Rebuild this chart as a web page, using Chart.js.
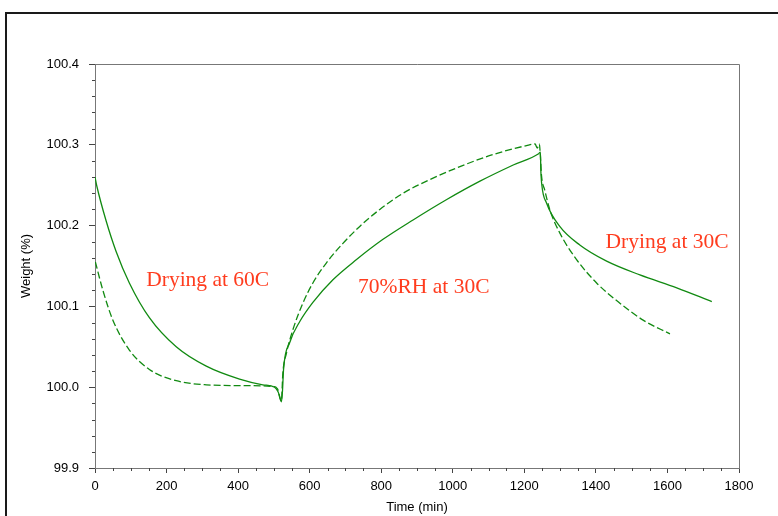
<!DOCTYPE html>
<html>
<head>
<meta charset="utf-8">
<script src="https://cdn.jsdelivr.net/npm/chart.js@4.4.1/dist/chart.umd.min.js"></script>
<style>
  body { margin: 0; background: #fff; overflow: hidden; }
  #wrap { position: relative; width: 778px; height: 516px; }
  #frame { position: absolute; left: 5px; top: 12px; width: 820px; height: 620px; border: 2px solid #1a1a1a; pointer-events: none; }
</style>
</head>
<body>
<div id="wrap">
  <canvas id="chart"></canvas>
  <div id="frame"></div>
</div>
<script>
// solid run
const solidTime = [0, 5, 31, 59, 96, 152, 227, 311, 404, 469, 502, 512, 521, 524, 527, 544, 572, 609, 665, 731, 805, 889, 982, 1076, 1169, 1240, 1245, 1246, 1249, 1262, 1299, 1355, 1430, 1523, 1626, 1724];
const solidWeight = [100.260, 100.249, 100.206, 100.168, 100.129, 100.086, 100.050, 100.026, 100.010, 100.003, 100.000, 99.994, 99.982, 99.995, 100.022, 100.055, 100.081, 100.105, 100.133, 100.158, 100.183, 100.207, 100.232, 100.255, 100.275, 100.289, 100.291, 100.270, 100.250, 100.228, 100.199, 100.176, 100.156, 100.139, 100.123, 100.106];

// dashed run
const dashTime = [1, 22, 50, 96, 152, 227, 311, 404, 497, 510, 521, 525, 535, 553, 581, 609, 647, 693, 740, 796, 861, 936, 1020, 1113, 1206, 1230, 1236, 1242, 1245, 1248, 1257, 1271, 1299, 1346, 1402, 1467, 1532, 1607];
const dashWeight = [100.155, 100.120, 100.083, 100.046, 100.022, 100.008, 100.003, 100.002, 100.001, 99.998, 99.983, 100.017, 100.042, 100.071, 100.104, 100.129, 100.154, 100.178, 100.199, 100.220, 100.240, 100.257, 100.273, 100.288, 100.299, 100.301, 100.296, 100.301, 100.285, 100.262, 100.244, 100.220, 100.191, 100.158, 100.129, 100.104, 100.083, 100.066];

const xTicks = [0, 1800, 200];
const yTicks = [99.9, 100.4, 0.1];

const noteText = ["Drying at 60C", "70%RH at 30C", "Drying at 30C"];
const noteTime = [315, 919, 1599];
const noteWeight = [100.132, 100.123, 100.179];

const green = "#118a11";
const tickFont = { family: "Liberation Sans, Arial, sans-serif", size: 13 };

const toPoints = (ts, ws) => ts.map((t, i) => ({ x: t, y: ws[i] }));

const extras = {
  id: "extras",
  afterDraw(chart) {
    const { ctx, chartArea: a, scales: { x, y } } = chart;
    ctx.save();
    ctx.strokeStyle = "#444";
    ctx.lineWidth = 1;
    ctx.beginPath();
    for (let v = xTicks[0]; v <= xTicks[1]; v += 50) {
      if (v % xTicks[2] === 0) continue;
      const px = Math.round(x.getPixelForValue(v)) + 0.5;
      ctx.moveTo(px, a.bottom);
      ctx.lineTo(px, a.bottom + 3);
    }
    for (let i = 0; i <= 25; i++) {
      if (i % 5 === 0) continue;
      const py = Math.round(y.getPixelForValue(yTicks[0] + i * 0.02)) + 0.5;
      ctx.moveTo(a.left - 3, py);
      ctx.lineTo(a.left, py);
    }
    ctx.stroke();

    // top and right edges of the plot box
    ctx.strokeStyle = "#777";
    ctx.beginPath();
    ctx.moveTo(a.left, Math.round(a.top) + 0.5);
    ctx.lineTo(Math.round(a.right) + 0.5, Math.round(a.top) + 0.5);
    ctx.lineTo(Math.round(a.right) + 0.5, a.bottom);
    ctx.stroke();

    // notes
    ctx.fillStyle = "#ff3c1e";
    ctx.font = "21.5px 'Liberation Serif', 'Times New Roman', serif";
    ctx.textAlign = "center";
    ctx.textBaseline = "middle";
    noteText.forEach((s, i) => {
      ctx.fillText(s, x.getPixelForValue(noteTime[i]), y.getPixelForValue(noteWeight[i]));
    });
    ctx.restore();
  }
};

new Chart(document.getElementById("chart"), {
  type: "line",
  data: {
    datasets: [
      {
        data: toPoints(solidTime, solidWeight),
        borderColor: green,
        borderWidth: 1.3,
        pointRadius: 0,
        cubicInterpolationMode: "monotone"
      },
      {
        data: toPoints(dashTime, dashWeight),
        borderColor: green,
        borderWidth: 1.3,
        borderDash: [7, 3],
        pointRadius: 0,
        cubicInterpolationMode: "monotone"
      }
    ]
  },
  options: {
    responsive: true,
    maintainAspectRatio: false,
    animation: false,
    layout: { padding: { top: 64, right: 39, left: 0, bottom: 0 } },
    plugins: { legend: { display: false }, tooltip: { enabled: false } },
    scales: {
      x: {
        type: "linear",
        min: xTicks[0],
        max: xTicks[1],
        afterFit: s => { s.height = 48; },
        ticks: { stepSize: xTicks[2], color: "#000", font: tickFont, padding: 6, maxRotation: 0, callback: v => String(v) },
        grid: { drawOnChartArea: false, tickLength: 5, color: "#444" },
        border: { color: "#777" },
        title: { display: true, text: "Time (min)", color: "#000", font: tickFont, padding: { top: 0, bottom: 1 } }
      },
      y: {
        min: yTicks[0],
        max: yTicks[1],
        afterFit: s => { s.width = 95; },
        ticks: { stepSize: yTicks[2], color: "#000", font: tickFont, padding: 10, callback: v => Number(v).toFixed(1) },
        grid: { drawOnChartArea: false, tickLength: 6, color: "#444" },
        border: { color: "#777" },
        title: { display: true, text: "Weight (%)", color: "#000", font: tickFont, padding: { top: 19 } }
      }
    }
  },
  plugins: [extras]
});
</script>
</body>
</html>
